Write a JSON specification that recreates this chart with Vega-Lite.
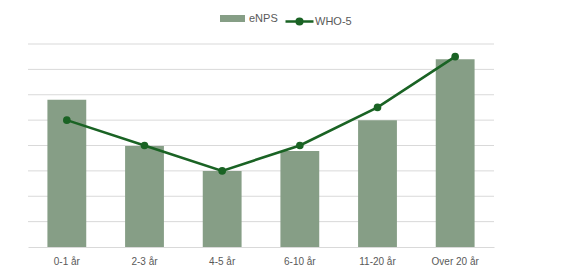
{
  "$schema": "https://vega.github.io/schema/vega-lite/v6.json",
  "width": 466,
  "height": 203,
  "autosize": "none",
  "padding": {"left": 28, "top": 44, "right": 72, "bottom": 30},
  "config": {
    "view": {"stroke": null},
    "font": "Liberation Sans"
  },
  "datasets": {
    "main": [
      {"cat": "0-1 år", "eNPS": 5.8, "WHO5": 5.0, "s1": "eNPS", "s2": "WHO-5"},
      {"cat": "2-3 år", "eNPS": 3.98, "WHO5": 4.0, "s1": "eNPS", "s2": "WHO-5"},
      {"cat": "4-5 år", "eNPS": 3.0, "WHO5": 3.0, "s1": "eNPS", "s2": "WHO-5"},
      {"cat": "6-10 år", "eNPS": 3.78, "WHO5": 4.0, "s1": "eNPS", "s2": "WHO-5"},
      {"cat": "11-20 år", "eNPS": 5.0, "WHO5": 5.5, "s1": "eNPS", "s2": "WHO-5"},
      {"cat": "Over 20 år", "eNPS": 7.4, "WHO5": 7.5, "s1": "eNPS", "s2": "WHO-5"}
    ],
    "grid": [
      {"v": 1}, {"v": 2}, {"v": 3}, {"v": 4}, {"v": 5}, {"v": 6}, {"v": 7}, {"v": 8}
    ]
  },
  "layer": [
    {
      "data": {"name": "grid"},
      "mark": {"type": "rule", "color": "#d9d9d9", "strokeWidth": 1},
      "encoding": {
        "y": {
          "field": "v",
          "type": "quantitative",
          "title": null,
          "scale": {"domain": [0, 8], "nice": false},
          "axis": null
        }
      }
    },
    {
      "data": {"name": "main"},
      "encoding": {
        "x": {
          "field": "cat",
          "type": "nominal",
          "sort": null,
          "title": null,
          "scale": {"paddingInner": 0.5, "paddingOuter": 0.25},
          "axis": {
            "labelAngle": 0,
            "labelFontSize": 10,
            "labelColor": "#595959",
            "labelPadding": 9,
            "ticks": false,
            "domain": true,
            "domainColor": "#d9d9d9",
            "domainWidth": 1,
            "grid": false
          }
        }
      },
      "layer": [
        {
          "mark": {"type": "bar", "color": "#869e86"},
          "encoding": {
            "y": {
              "field": "eNPS",
              "type": "quantitative",
              "title": null,
              "scale": {"domain": [0, 8], "nice": false},
              "axis": null
            },
            "color": {
              "field": "s1",
              "type": "nominal",
              "scale": {"domain": ["eNPS"], "range": ["#869e86"]},
              "legend": {
                "title": null,
                "orient": "none",
                "legendX": 192,
                "legendY": -38,
                "symbolType": "M-1,-0.28H1V0.28H-1Z",
                "symbolSize": 625,
                "symbolStrokeWidth": 0,
                "labelFontSize": 11,
                "labelColor": "#595959",
                "labelOffset": 4
              }
            }
          }
        },
        {
          "mark": {
            "type": "line",
            "strokeWidth": 2.6,
            "point": {"filled": true, "size": 32, "color": "#1a6324"}
          },
          "encoding": {
            "y": {
              "field": "WHO5",
              "type": "quantitative",
              "title": null,
              "scale": {"domain": [0, 8], "nice": false},
              "axis": null
            },
            "stroke": {
              "field": "s2",
              "type": "nominal",
              "scale": {"domain": ["WHO-5"], "range": ["#1a6324"]},
              "legend": {
                "title": null,
                "orient": "none",
                "legendX": 256,
                "legendY": -38,
                "symbolType": "M-1,0H1M-0.2,0A0.2,0.2 0 1,0 0.2,0A0.2,0.2 0 1,0 -0.2,0Z",
                "symbolSize": 784,
                "symbolStrokeWidth": 2.6,
                "symbolStrokeColor": "#1a6324",
                "symbolFillColor": "#1a6324",
                "labelFontSize": 11,
                "labelColor": "#595959",
                "labelOffset": 0
              }
            }
          }
        }
      ]
    }
  ]
}
